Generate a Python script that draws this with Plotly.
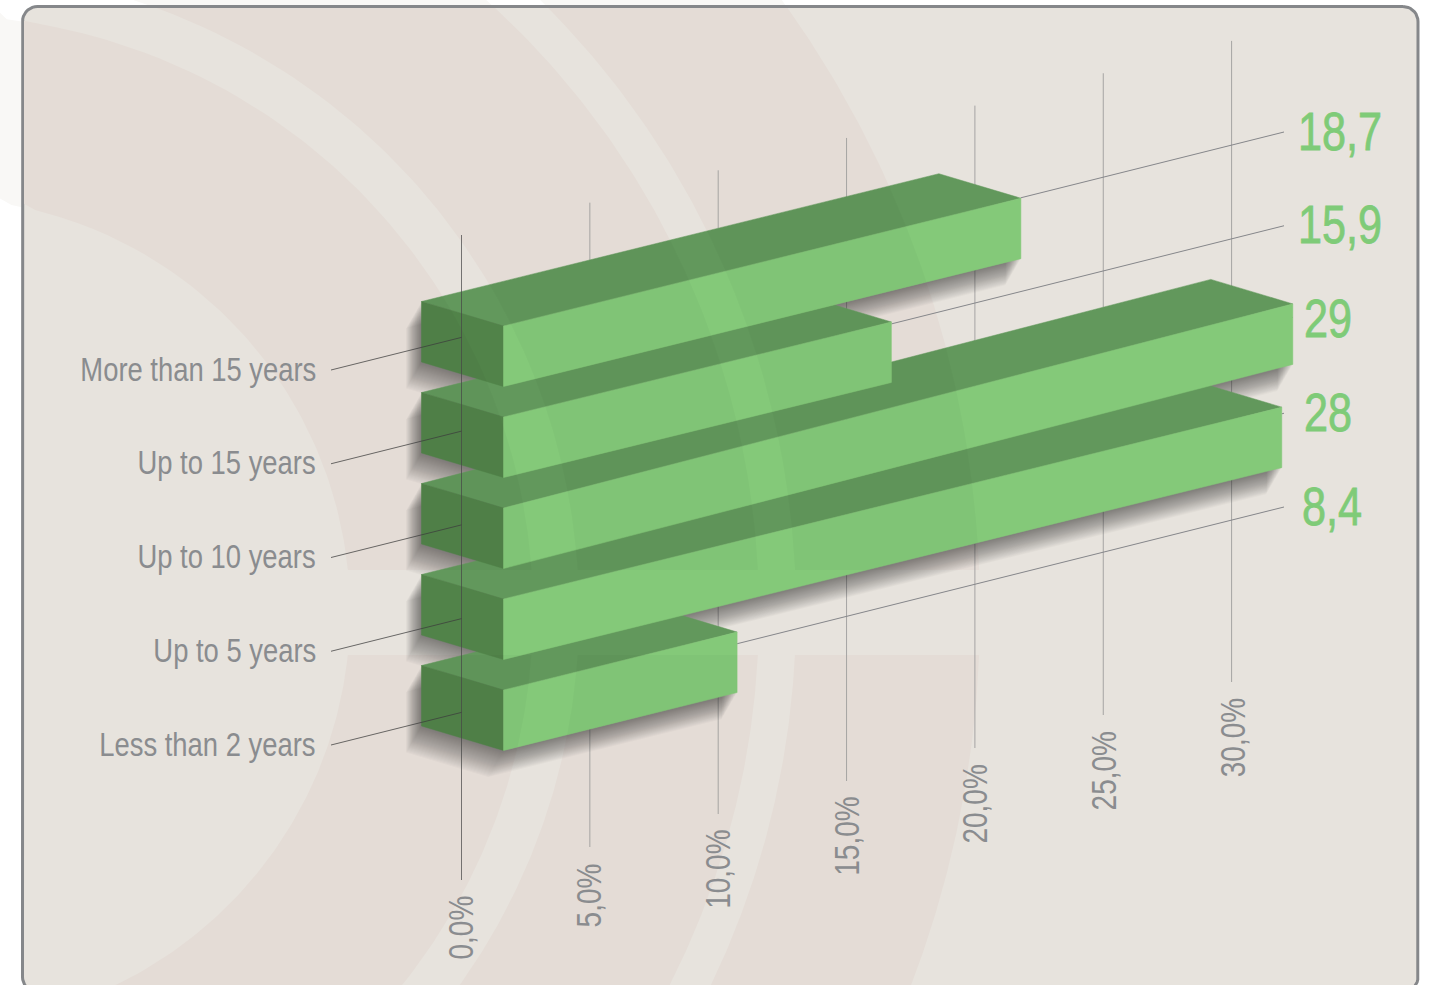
import json
import math
import numpy as np
import plotly.graph_objects as go

# ---- data, top row first ----
categories = ["More than 15 years", "Up to 15 years", "Up to 10 years", "Up to 5 years", "Less than 2 years"]
printed_values = [18.7, 15.9, 29, 28, 8.4]
drawn_lengths = [18.78, 14.08, 28.65, 28.25, 8.48]   # lengths of the bars as actually drawn
bar_skews = [0.247, 0.245, 0.2586, 0.2465, 0.248]
axis_ticks = [0, 5, 10, 15, 20, 25, 30]

# ---- oblique projection of the chart onto the page ----
AX0, AX_K = 461.5, 25.67
GRID_BOT0, GRID_BOT_K = 880, 6.6
GRID_TOP0, GRID_TOP_K = 235, 6.47
BAR_X0, BAR_K = 503.5, 27.55
BAR_Y0, BAR_STEP = 326, 91
BAR_H, DEPTH_X, DEPTH_Y = 60.5, 82, 24.5
LEFT_Y0, RIGHT_Y0, LEADER_STEP = 370, 132, 93.75
LEADER_SLOPE = 0.25

# ---- styles ----
PAGE_W, PAGE_H = 1430, 985
FONT = "Liberation Sans, Arial, sans-serif"
GRAY = "#8a8c8f"
GREEN_TXT = "#7fcb78"
FRONT, TOP, SIDE = "#84c979", "#62985c", "#518349"
LIGHT, DARK, FAINT = "#e7e3dd", "#e4dcd6", "#f9f8f6"
CX, CY = -64, 612
GAPS = [(414, 597), (643, 823), (860, 1044)]
STRIP = (570, 655)
CARD = (22.5, 6.5, 1418, 992, 15)
value_x = [1296, 1296, 1302, 1302, 1300]
LABEL_SQUEEZE, VALUE_SQUEEZE, TICK_SQUEEZE = 0.83, 0.815, 0.80

fig = go.Figure()


def poly(pts, fill, line=None, lw=0):
    fig.add_trace(go.Scatter(
        x=[p[0] if p else None for p in pts], y=[p[1] if p else None for p in pts],
        mode="lines", fill="toself", fillcolor=fill,
        line=dict(width=lw, color=line or fill), hoverinfo="skip", showlegend=False))


def line(x, y, color, w=1):
    fig.add_trace(go.Scatter(x=x, y=y, mode="lines", line=dict(color=color, width=w),
                             hoverinfo="skip", showlegend=False))


def annulus(r1, r2, ya, yb, xa, xb):
    ys = np.linspace(ya, yb, 90)
    def edge(r):
        return [min(xb, max(xa, CX + math.sqrt(max(r * r - (y - CY) ** 2, 0)))) for y in ys]
    outer, inner = edge(r2), edge(r1)
    return list(zip(outer, ys)) + list(zip(inner[::-1], ys[::-1]))


def gap_pieces(xa, xb, ya, yb):
    out = []
    for r1, r2 in GAPS:
        if ya < STRIP[0]:
            out.append(annulus(r1, r2, ya, min(yb, STRIP[0]), xa, xb))
        if yb > STRIP[1]:
            out.append(annulus(r1, r2, max(ya, STRIP[1]), yb, xa, xb))
    return out


def clip_convex(subject, quad):
    mx = sum(p[0] for p in quad) / len(quad)
    my = sum(p[1] for p in quad) / len(quad)
    res = list(subject)
    for i in range(len(quad)):
        a, b = quad[i], quad[(i + 1) % len(quad)]
        def side(p):
            return (b[0] - a[0]) * (p[1] - a[1]) - (b[1] - a[1]) * (p[0] - a[0])
        s = 1 if side((mx, my)) > 0 else -1
        new = []
        for j in range(len(res)):
            p, q = res[j], res[(j + 1) % len(res)]
            sp, sq = s * side(p), s * side(q)
            if sp >= 0:
                new.append(p)
            if sp * sq < 0:
                t = sp / (sp - sq)
                new.append((p[0] + t * (q[0] - p[0]), p[1] + t * (q[1] - p[1])))
        res = new
        if not res:
            break
    return res


def rounded(x0, y0, x1, y1, r):
    pts = []
    for cx, cy, a0 in [(x1 - r, y0 + r, -90), (x1 - r, y1 - r, 0), (x0 + r, y1 - r, 90), (x0 + r, y0 + r, 180)]:
        for a in np.linspace(a0, a0 + 90, 10):
            pts.append((cx + r * math.cos(math.radians(a)), cy + r * math.sin(math.radians(a))))
    return pts + pts[:1]


# ---- background ----
for piece in gap_pieces(0, PAGE_W, 0, PAGE_H):
    poly(piece, FAINT)
poly(rounded(*CARD), LIGHT, "#85878a", 3)
for piece in gap_pieces(CARD[0] + 1.5, CARD[2] - 1.5, CARD[1] + 1.5, PAGE_H):
    poly(piece, DARK)


def gx(p):
    return AX0 + AX_K * p


def gy_bot(p):
    return GRID_BOT0 - GRID_BOT_K * p


def gy_top(p):
    return GRID_TOP0 - GRID_TOP_K * p


# ---- grid behind the bars ----
for p in axis_ticks[1:]:
    line([gx(p), gx(p)], [gy_top(p), gy_bot(p)], "#a5a4a3")


def bar_geom(i):
    y0 = BAR_Y0 + BAR_STEP * i
    run = BAR_K * drawn_lengths[i]
    xe, ye = BAR_X0 + run, y0 - bar_skews[i] * run
    xl, yl = BAR_X0 - DEPTH_X, y0 - DEPTH_Y
    front = [(BAR_X0, y0), (xe, ye), (xe, ye + BAR_H), (BAR_X0, y0 + BAR_H)]
    top = [(xl, yl), (xe - DEPTH_X, ye - DEPTH_Y), (xe, ye), (BAR_X0, y0)]
    side = [(xl, yl), (BAR_X0, y0), (BAR_X0, y0 + BAR_H), (xl, yl + BAR_H)]
    return front, top, side, xe, ye


# ---- right-hand leaders ----
for i in range(len(categories)):
    _, _, _, xe, _ = bar_geom(i)
    yl = RIGHT_Y0 + LEADER_STEP * i
    line([xe, 1284], [yl + LEADER_SLOPE * (1284 - xe), yl], "#85868a")

# ---- soft shadows on the background ----
for i in range(len(categories)):
    front, top, side, xe, ye = bar_geom(i)
    outline = [top[0], top[1], top[2], front[2], front[3], side[3]]
    for k in range(1, 29):
        poly([(x - 0.55 * k, y + 0.95 * k) for x, y in outline + outline[:1]], "rgba(45,40,38,0.022)")

# ---- bars: the lowest row first, the upper rows overlap it ----
pieces_all = gap_pieces(0, PAGE_W, 0, PAGE_H)
for i in range(len(categories) - 1, -1, -1):
    front, top, side, _, _ = bar_geom(i)
    overlay = []
    for face, color in ((top, TOP), (side, SIDE), (front, FRONT)):
        poly(face + face[:1], color, color, 0.5)
        for piece in pieces_all:
            c = clip_convex(piece, face)
            if len(c) > 2:
                overlay += c + c[:1] + [None]
    if overlay:
        poly(overlay, "rgba(0,0,0,0.025)")

# ---- lines that run over the bars ----
line([gx(0), gx(0)], [gy_top(0), gy_bot(0)], "rgba(70,70,70,0.72)")
for i in range(len(categories)):
    yl = LEFT_Y0 + LEADER_STEP * i
    line([331, AX0], [yl, yl - LEADER_SLOPE * (AX0 - 331)], "rgba(60,60,60,0.75)")

# ---- text ----
ann = []
fit = []   # [horizontal squeeze, side of the text that stays in place, extra stroke]
for i, c in enumerate(categories):
    ann.append(dict(x=318, y=LEFT_Y0 + LEADER_STEP * i - 1, text=c, xanchor="right", yanchor="middle",
                    showarrow=False, font=dict(family=FONT, size=33, color=GRAY)))
    fit.append([LABEL_SQUEEZE, 1, 0])
    ann.append(dict(x=value_x[i], y=RIGHT_Y0 + LEADER_STEP * i - 1, text=str(printed_values[i]).replace(".", ","),
                    xanchor="left", yanchor="middle", showarrow=False,
                    font=dict(family=FONT, size=53, color=GREEN_TXT)))
    fit.append([VALUE_SQUEEZE, -1, 0.8])
for p in axis_ticks:
    ann.append(dict(x=gx(p) - 2 + 0.1 * p, y=gy_bot(p) + 14, text=f"{p:.1f}%".replace(".", ","), textangle=-90,
                    xanchor="center", yanchor="top", showarrow=False,
                    font=dict(family=FONT, size=35, color=GRAY)))
    fit.append([TICK_SQUEEZE, 1, 0])

fig.update_layout(
    width=PAGE_W, height=PAGE_H, margin=dict(l=0, r=0, t=0, b=0),
    paper_bgcolor="white", plot_bgcolor="rgba(0,0,0,0)", showlegend=False, annotations=ann,
    xaxis=dict(range=[0, PAGE_W], visible=False, fixedrange=True),
    yaxis=dict(range=[PAGE_H, 0], visible=False, fixedrange=True),
)
squeeze_js = """
document.body.style.margin='0';document.documentElement.style.overflow='hidden';
var FIT=%s;
document.querySelectorAll('.annotation').forEach(function(g){
  var idx=+g.getAttribute('data-index');var t=g.querySelector('text');
  if(!t||!FIT[idx])return;
  var f=FIT[idx][0],s=FIT[idx][1],w=FIT[idx][2],l=t.getComputedTextLength();
  t.setAttribute('lengthAdjust','spacingAndGlyphs');
  t.setAttribute('textLength',l*f);
  t.setAttribute('x',parseFloat(t.getAttribute('x'))+s*(1-f)*l/2);
  if(w){t.style.stroke=t.style.fill;t.style.strokeWidth=w+'px';}
});
""" % json.dumps(fit)
fig.write_html("out.html", config=dict(displayModeBar=False), post_script=squeeze_js)
